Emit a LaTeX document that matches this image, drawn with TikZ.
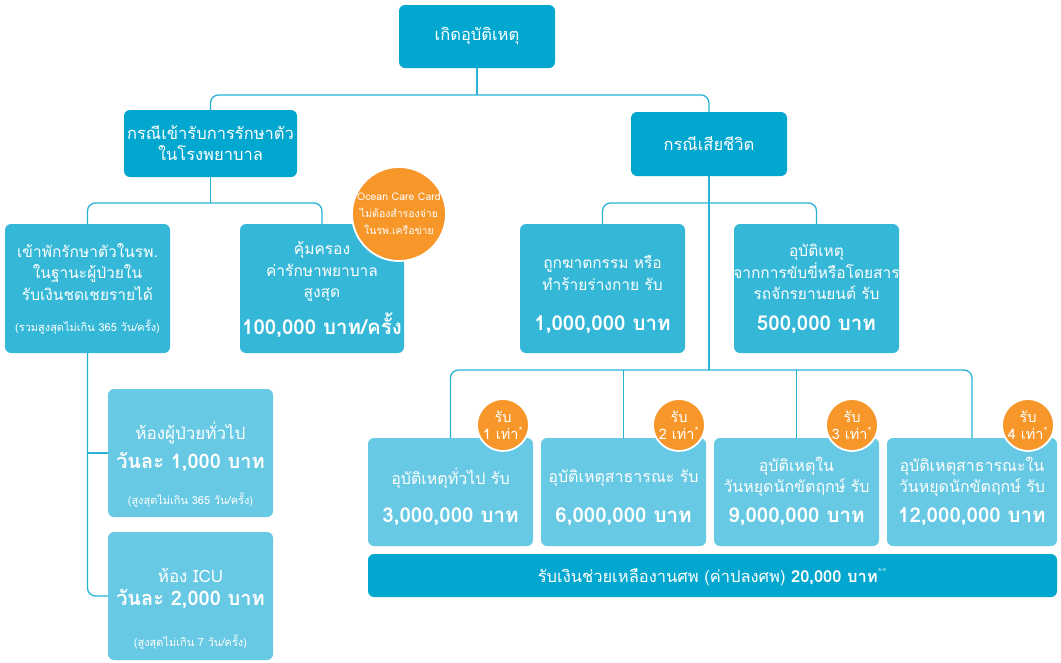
\documentclass[tikz,border=0pt]{standalone}
\usepackage{fontspec}
\newfontfamily\thai[Script=Thai]{Loma}
\definecolor{cdark}{RGB}{2,167,207}
\definecolor{cmid}{RGB}{53,184,216}
\definecolor{clight}{RGB}{103,201,227}
\definecolor{corange}{RGB}{247,150,41}
\definecolor{cline}{RGB}{40,178,214}
\definecolor{cstar}{RGB}{160,220,240}
\begin{document}
\begin{tikzpicture}[x=1pt,y=-1pt,
  box/.style={rounded corners=6pt, inner sep=0pt, text=white, align=center,
    font=\thai\fontsize{16.5}{21}\selectfont},
  darkbox/.style={box, fill=cdark},
  midbox/.style={box, fill=cmid, minimum width=165pt, minimum height=129pt},
  lightbox/.style={box, fill=clight},
  txt/.style={inner sep=0pt, text=white, align=center, font=\thai\fontsize{15.5}{21.5}\selectfont},
  btxt/.style={txt, font=\thai\fontsize{16}{21}\selectfont},
  rtxt/.style={txt, font=\thai\fontsize{17}{21}\selectfont},
  amt/.style={txt, font=\thai\bfseries\fontsize{20.5}{24}\selectfont},
  ramt/.style={txt, font=\thai\bfseries\fontsize{20}{24}\selectfont},
  sml/.style={txt, font=\thai\fontsize{11}{13}\selectfont},
  conn/.style={draw=cline, line width=1.3pt, rounded corners=8pt},
  badge/.style={circle, fill=corange, draw=white, line width=1.8pt, inner sep=0pt,
    minimum size=52pt, text=white, align=center, font=\thai\fontsize{14.5}{17}\selectfont},
]
\useasboundingbox (0,0) rectangle (1061,662);

% level 1
\node[darkbox, minimum width=156pt, minimum height=63pt] (top) at (477,36.5) {เกิดอุบัติเหตุ};
\node[darkbox, minimum width=173pt, minimum height=67pt] (hosp) at (210.5,143.5) {กรณีเข้ารับการรักษาตัว\\ในโรงพยาบาล};
\node[darkbox, minimum width=156pt, minimum height=64pt] (death) at (709,144) {กรณีเสียชีวิต};

% level 2
\node[midbox] (adm) at (87.5,288.5) {};
\node[txt] (adm-t) at (87.5,272) {เข้าพักรักษาตัวในรพ.\\ในฐานะผู้ป่วยใน\\รับเงินชดเชยรายได้};
\node[sml] (adm-s) at (87.5,327) {(รวมสูงสุดไม่เกิน 365 วัน/ครั้ง)};

\node[midbox, minimum width=164pt] (cov) at (322,288.5) {};
\node[txt] (cov-t) at (322,272) {คุ้มครอง\\ค่ารักษาพยาบาล\\สูงสุด};
\node[amt] (cov-a) at (322,325) {100,000 บาท/ครั้ง};

\node[midbox] (murder) at (602.5,288.5) {};
\node[txt] (murder-t) at (602.5,273) {ถูกฆาตกรรม หรือ\\ทำร้ายร่างกาย รับ};
\node[amt] (murder-a) at (602.5,325) {1,000,000 บาท};

\node[midbox] (vehicle) at (816.5,288.5) {};
\node[txt] (vehicle-t) at (816.5,272) {อุบัติเหตุ\\จากการขับขี่หรือโดยสาร\\รถจักรยานยนต์ รับ};
\node[amt] (vehicle-a) at (816.5,325) {500,000 บาท};

% room boxes
\node[lightbox, minimum width=165pt, minimum height=128pt] (gen) at (190.5,453) {};
\node[rtxt] (gen-t) at (190.5,433) {ห้องผู้ป่วยทั่วไป};
\node[ramt] (gen-a) at (190.5,462) {วันละ 1,000 บาท};
\node[sml] (gen-s) at (190.5,500) {(สูงสุดไม่เกิน 365 วัน/ครั้ง)};

\node[lightbox, minimum width=165pt, minimum height=128pt] (icu) at (190.5,596) {};
\node[rtxt] (icu-t) at (190.5,575) {ห้อง ICU};
\node[ramt] (icu-a) at (190.5,599) {วันละ 2,000 บาท};
\node[sml] (icu-s) at (190.5,642) {(สูงสุดไม่เกิน 7 วัน/ครั้ง)};

% level 3 (death)
\node[lightbox, minimum width=165pt, minimum height=108pt] (b1) at (450.5,492) {};
\node[btxt] (b1-t) at (450.5,478) {อุบัติเหตุทั่วไป รับ};
\node[amt] (b1-a) at (450.5,517) {3,000,000 บาท};

\node[lightbox, minimum width=165pt, minimum height=108pt] (b2) at (623.5,492) {};
\node[btxt] (b2-t) at (623.5,478) {อุบัติเหตุสาธารณะ รับ};
\node[amt] (b2-a) at (623.5,517) {6,000,000 บาท};

\node[lightbox, minimum width=165pt, minimum height=108pt] (b3) at (796.5,492) {};
\node[btxt] (b3-t) at (796.5,477) {อุบัติเหตุใน\\วันหยุดนักขัตฤกษ์ รับ};
\node[amt] (b3-a) at (796.5,517) {9,000,000 บาท};

\node[lightbox, minimum width=170pt, minimum height=108pt] (b4) at (972,492) {};
\node[btxt] (b4-t) at (972,477) {อุบัติเหตุสาธารณะใน\\วันหยุดนักขัตฤกษ์ รับ};
\node[amt] (b4-a) at (972,517) {12,000,000 บาท};

\node[darkbox, minimum width=689pt, minimum height=43pt] (bar) at (712.5,575.5) {};
\node[btxt, font=\thai\fontsize{16.5}{20}\selectfont] (bar-t) at (712.5,577)
  {รับเงินช่วยเหลืองานศพ (ค่าปลงศพ) {\bfseries 20,000 บาท}\textsuperscript{\textcolor{cstar}{**}}};

% connectors
\coordinate (j1) at (477,95);
\coordinate (j2) at (210.5,203);
\coordinate (j3) at (709,203);
\coordinate (j4) at (709,370);
\draw[conn] (top.south) -- (j1);
\draw[conn] (hosp.north) |- (j1) -| (death.north);
\draw[conn] (hosp.south) -- (j2);
\draw[conn] (adm.north) |- (j2) -| (cov.north);
\draw[conn] (death.south) -- (j3);
\draw[conn] (murder.north) |- (j3) -| (vehicle.north);
\draw[conn] (j3) -- (j4);
\draw[conn] (b1.north) |- (j4) -| (b4.north);
\draw[conn] (b2.north |- j4) -- (b2.north);
\draw[conn] (b3.north |- j4) -- (b3.north);
\draw[conn] (adm.south) |- (icu.west);
\draw[conn] (adm.south |- gen.west) -- (gen.west);

% badges
\node[badge, minimum size=94pt, font=\thai\fontsize{10.5}{17}\selectfont] (ocean) at (399,214)
  {Ocean Care Card\\ไม่ต้องสำรองจ่าย\\ในรพ.เครือข่าย};
\node[badge] (bd1) at (503,425) {รับ\\1 เท่า\textsuperscript{*}};
\node[badge] (bd2) at (679,425) {รับ\\2 เท่า\textsuperscript{*}};
\node[badge] (bd3) at (852,425) {รับ\\3 เท่า\textsuperscript{*}};
\node[badge] (bd4) at (1028,425) {รับ\\4 เท่า\textsuperscript{*}};
\end{tikzpicture}
\end{document}
